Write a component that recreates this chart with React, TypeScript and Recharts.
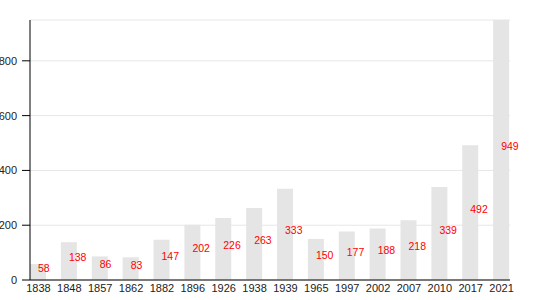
import React from 'react';
import { BarChart, Bar, XAxis, YAxis, CartesianGrid, LabelList } from 'recharts';

const years = ['1838', '1848', '1857', '1862', '1882', '1896', '1926', '1938', '1939', '1965', '1997', '2002', '2007', '2010', '2017', '2021'];
const population = [58, 138, 86, 83, 147, 202, 226, 263, 333, 150, 177, 188, 218, 339, 492, 949];
const yTicks = [0, 200, 400, 600, 800];

const data = years.map((year, i) => ({ year, value: population[i] }));

const renderLabel = (props: any) => {
  const { x, y, width, height, value } = props;
  return (
    <text
      x={Number(x) + Number(width) / 2}
      y={Number(y) + Number(height) / 2}
      fill="#ff0000"
      fontSize={10.5}
      fontFamily="'Liberation Sans', Arial, sans-serif"
      textAnchor="start"
    >
      {value}
    </text>
  );
};

export default function App() {
  return (
    <div style={{ position: 'absolute', left: 0, top: 0 }}>
      <BarChart
        width={550}
        height={300}
        data={data}
        margin={{ top: 20, right: 40, bottom: 0, left: 0 }}
      >
        <CartesianGrid vertical={false} stroke="#e6e6e6" strokeWidth={1} />
        <XAxis
          dataKey="year"
          padding={{ left: -7, right: -7 }}
          height={20}
          tickLine={false}
          tickSize={2}
          tickMargin={2}
          interval={0}
          axisLine={{ stroke: '#000', strokeWidth: 1 }}
          tick={{ fill: '#222', fontSize: 11, fontFamily: "'Liberation Sans', Arial, sans-serif" }}
        />
        <YAxis
          width={30}
          domain={[0, 'dataMax']}
          ticks={yTicks}
          tickSize={8}
          tickMargin={5}
          axisLine={{ stroke: '#000', strokeWidth: 1 }}
          tickLine={{ stroke: '#000' }}
          tick={{ fill: '#222', fontSize: 11, fontFamily: "'Liberation Sans', Arial, sans-serif" }}
        />
        <Bar dataKey="value" fill="#e5e5e5" barSize={16} isAnimationActive={false}>
          <LabelList dataKey="value" content={renderLabel} />
        </Bar>
      </BarChart>
    </div>
  );
}
